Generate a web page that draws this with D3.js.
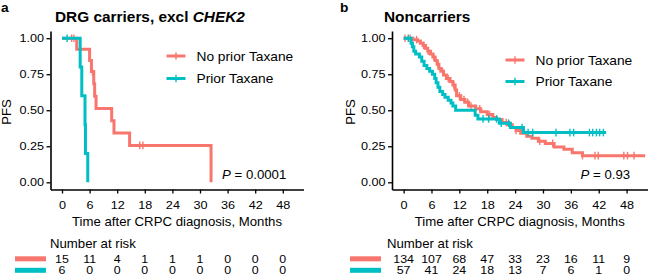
<!DOCTYPE html>
<html>
<head>
<meta charset="utf-8">
<script src="https://cdn.jsdelivr.net/npm/d3@7"></script>
<style>
  body { margin: 0; background: #fff; }
  svg { display: block; }
  text { font-family: "Liberation Sans", Arial, sans-serif; }
</style>
</head>
<body>
<svg id="chart" width="648" height="276"></svg>
<script>
const monthTicks = [0, 6, 12, 18, 24, 30, 36, 42, 48];
const pfsTicks = [0, 0.25, 0.5, 0.75, 1];
const groupNames = ['No prior Taxane', 'Prior Taxane'];
const groupColors = ['#F8766D', '#00BFC4'];

// panel a: DRG carriers, excl CHEK2
const aNoTime = [0, 3.2, 6.0, 6.4, 6.9, 7.1, 7.4, 10.8, 11.3, 14.7, 32.4];
const aNoSurv = [1, 0.923, 0.846, 0.769, 0.684, 0.598, 0.513, 0.427, 0.342, 0.256, 0];
const aNoCens = [2.1, 2.6, 6.6, 16.9, 17.6];
const aNoEnd = 32.4;
const aPriorTime = [0, 3.95, 4.3, 5.0, 5.1, 5.6];
const aPriorSurv = [1, 0.8, 0.6, 0.4, 0.2, 0];
const aPriorCens = [1.1];
const aPriorEnd = 5.6;
const aRiskNo = [15, 11, 4, 1, 1, 1, 0, 0, 0];
const aRiskPrior = [6, 0, 0, 0, 0, 0, 0, 0, 0];

// panel b: Noncarriers
const bNoTime = [0, 2.0, 3.0, 3.6, 4.2, 4.7, 5.2, 5.8, 6.3, 6.8, 7.2, 7.6, 8.0, 8.6, 9.2, 10.0,
  10.6, 11.1, 11.4, 12.3, 13.2, 14.0, 15.5, 16.6, 18.0, 19.2, 20.0, 21.2, 22.5, 23.4, 24.2,
  25.2, 26.5, 27.6, 29.0, 30.5, 32.4, 34.5, 36.3, 38.5];
const bNoSurv = [1, 0.99, 0.98, 0.965, 0.95, 0.93, 0.91, 0.89, 0.87, 0.845, 0.82, 0.79, 0.77,
  0.745, 0.72, 0.70, 0.675, 0.64, 0.60, 0.575, 0.555, 0.53, 0.51, 0.49, 0.47, 0.45, 0.435,
  0.415, 0.40, 0.38, 0.36, 0.34, 0.32, 0.305, 0.285, 0.27, 0.245, 0.23, 0.205, 0.185];
const bNoCens = [0.3, 1.4, 2.8, 4.3, 5.3, 6.5, 7.4, 8.4, 9.6, 10.8, 12.0, 13.0, 13.8, 14.5,
  16.4, 18.5, 22.1, 22.8, 24.2, 29.3, 32.1, 38.5, 41.2, 41.9, 47.4, 48.2, 49.6];
const bNoEnd = 52.0;
const bPriorTime = [0, 1.6, 1.9, 2.2, 2.6, 3.4, 3.9, 4.4, 5.0, 5.6, 6.2, 6.7, 7.0, 7.4, 7.8,
  8.4, 8.9, 9.6, 10.2, 10.6, 11.2, 15.4, 16.0, 20.6, 23.0, 25.8];
const bPriorSurv = [1, 0.965, 0.94, 0.91, 0.89, 0.87, 0.84, 0.81, 0.79, 0.77, 0.75, 0.72,
  0.69, 0.66, 0.63, 0.61, 0.59, 0.57, 0.55, 0.53, 0.50, 0.465, 0.44, 0.41, 0.38, 0.345];
const bPriorCens = [1.0, 17.1, 18.3, 20.0, 21.0, 22.6, 25.5, 26.8, 27.8, 32.8, 35.8, 36.6,
  40.0, 40.7, 41.5, 42.2, 43.0];
const bPriorEnd = 43.6;
const bRiskNo = [134, 107, 68, 47, 33, 23, 16, 11, 9];
const bRiskPrior = [57, 41, 24, 18, 13, 7, 6, 1, 0];

const S = 1.1; // the reference type is a little wide

const panels = [
  {
    letter: 'a', title: ['DRG carriers, excl ', 'CHEK2'], pval: '0.0001',
    xr: [50.5, 303.5], letterX: 1, titleX: 55, ylabX: 10.5,
    legX: 166.5, legY: [56, 78.5], riskLabX: 50, barX: [15, 46],
    curves: [
      { time: aNoTime, surv: aNoSurv, cens: aNoCens, end: aNoEnd, risk: aRiskNo },
      { time: aPriorTime, surv: aPriorSurv, cens: aPriorCens, end: aPriorEnd, risk: aRiskPrior }
    ]
  },
  {
    letter: 'b', title: ['Noncarriers'], pval: '0.93',
    xr: [392, 647.5], letterX: 340, titleX: 384, ylabX: 354.5,
    legX: 505.5, legY: [60, 81.5], riskLabX: 387, barX: [350, 381],
    curves: [
      { time: bNoTime, surv: bNoSurv, cens: bNoCens, end: bNoEnd, risk: bRiskNo },
      { time: bPriorTime, surv: bPriorSurv, cens: bPriorCens, end: bPriorEnd, risk: bRiskPrior }
    ]
  }
];

const svg = d3.select('#chart');
const y = d3.scaleLinear().domain([-0.05, 1.05]).range([189.5, 31]);

function label(g, x, yy, txt, o = {}) {
  const rot = o.rotate ? ` rotate(${o.rotate})` : '';
  return g.append('text')
    .attr('transform', `translate(${x},${yy})${rot} scale(${o.sx || S},1)`)
    .attr('text-anchor', o.anchor || 'start')
    .attr('fill', '#000')
    .style('font-size', (o.size || 12) + 'px')
    .style('font-weight', o.weight || 'normal')
    .text(txt);
}

const survAt = (c, t) => c.surv[d3.bisectRight(c.time, t) - 1];

panels.forEach((p) => {
  const g = svg.append('g');
  const x = d3.scaleLinear().domain([-2.5, 52.5]).range(p.xr);

  label(g, p.letterX, 11.5, p.letter, { size: 12.5, weight: 'bold' });
  const title = label(g, p.titleX, 21.5, p.title[0], { size: 14, weight: 'bold' });
  if (p.title[1]) title.append('tspan').style('font-style', 'italic').text(p.title[1]);

  // axes
  const xAxis = g.append('g').attr('transform', `translate(0,${y.range()[0]})`)
    .call(d3.axisBottom(x).tickValues(monthTicks).tickSize(4).tickPadding(7).tickSizeOuter(0));
  const yAxis = g.append('g').attr('transform', `translate(${p.xr[0]},0)`)
    .call(d3.axisLeft(y).tickValues(pfsTicks).tickFormat(d3.format('.2f')).tickSize(4).tickSizeOuter(0));
  [xAxis, yAxis].forEach((ax) => {
    ax.select('.domain').attr('stroke', '#000').attr('stroke-width', 1.6);
    ax.selectAll('.tick line').attr('stroke', '#000').attr('stroke-width', 1.3);
    ax.selectAll('.tick text')
      .attr('fill', '#000')
      .style('font-family', '"Liberation Sans", Arial, sans-serif')
      .style('font-size', '11.5px')
      .attr('transform', `scale(${S},1)`);
  });
  yAxis.selectAll('.tick text').attr('x', -6.5 / S);

  label(g, (p.xr[0] + p.xr[1]) / 2, 226, 'Time after CRPC diagnosis, Months', { anchor: 'middle' });
  label(g, p.ylabX, 112, 'PFS', { anchor: 'middle', rotate: -90 });

  // curves
  const line = d3.line().x((d) => x(d[0])).y((d) => y(d[1])).curve(d3.curveStepAfter);
  p.curves.forEach((c, i) => {
    const pts = c.time.map((t, j) => [t, c.surv[j]]);
    if (c.end > c.time[c.time.length - 1]) pts.push([c.end, c.surv[c.surv.length - 1]]);
    g.append('path').attr('d', line(pts))
      .attr('fill', 'none').attr('stroke', groupColors[i]).attr('stroke-width', 3);
    g.selectAll(null).data(c.cens).enter().append('line')
      .attr('x1', (t) => x(t)).attr('x2', (t) => x(t))
      .attr('y1', (t) => y(survAt(c, t)) - 3.8).attr('y2', (t) => y(survAt(c, t)) + 3.8)
      .attr('stroke', groupColors[i]).attr('stroke-width', 1.4);
  });

  // legend
  groupNames.forEach((name, i) => {
    const ly = p.legY[i];
    g.append('line').attr('x1', p.legX).attr('x2', p.legX + 19).attr('y1', ly).attr('y2', ly)
      .attr('stroke', groupColors[i]).attr('stroke-width', 3);
    g.append('line').attr('x1', p.legX + 9.5).attr('x2', p.legX + 9.5).attr('y1', ly - 3.8).attr('y2', ly + 3.8)
      .attr('stroke', groupColors[i]).attr('stroke-width', 1.4);
    label(g, p.legX + 30, ly + 4.5, name, { size: 12.5 });
  });

  // p value
  const pt = label(g, x(48) + 3.5, 178.5, '', { anchor: 'end' });
  pt.append('tspan').style('font-style', 'italic').text('P');
  pt.append('tspan').text(' = ' + p.pval);

  // number at risk
  label(g, p.riskLabX, 248, 'Number at risk');
  p.curves.forEach((c, i) => {
    const ry = 262.8 + i * 11.5;
    g.append('rect').attr('x', p.barX[0]).attr('y', ry - 6.5).attr('width', p.barX[1] - p.barX[0]).attr('height', 5)
      .attr('fill', groupColors[i]);
    c.risk.forEach((n, j) => label(g, x(monthTicks[j]), ry, n, { anchor: 'middle', size: 10.5, sx: 1.18 }));
  });
});
</script>
</body>
</html>
